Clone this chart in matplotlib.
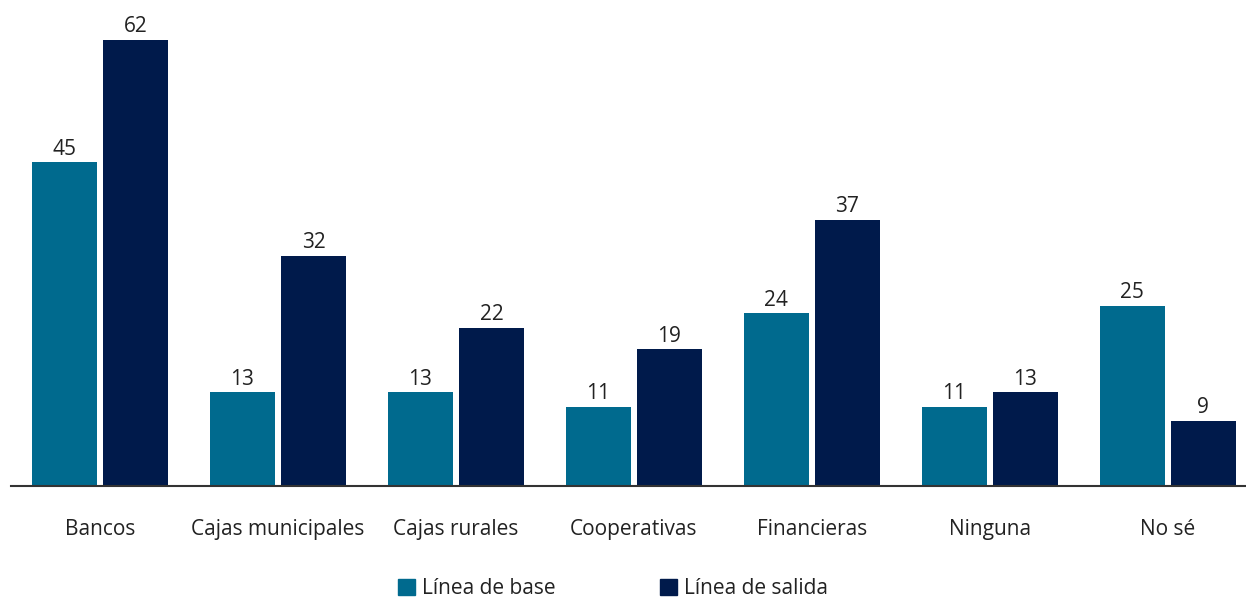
import numpy as np
import matplotlib
matplotlib.use('Agg')
import matplotlib.pyplot as plt
from matplotlib.patches import Patch

categories = ['Bancos', 'Cajas municipales', 'Cajas rurales', 'Cooperativas',
              'Financieras', 'Ninguna', 'No sé']
base = [45, 13, 13, 11, 24, 11, 25]
salida = [62, 32, 22, 19, 37, 13, 9]
series_names = ['Línea de base', 'Línea de salida']
colors = ['#006a8e', '#001a4b']

plt.rcParams['font.family'] = ['Open Sans', 'DejaVu Sans']

fig = plt.figure(figsize=(12.46, 6.01), dpi=100)
ax = fig.add_axes([11 / 1246, 115 / 601, 1235 / 1246, 486 / 601])

x = np.arange(len(categories))
w = 0.365
off = 0.2
b1 = ax.bar(x - off, base, w, color=colors[0])
b2 = ax.bar(x + off, salida, w, color=colors[1])

for bars, vals in ((b1, base), (b2, salida)):
    for r, v in zip(bars, vals):
        ax.annotate(str(v), (r.get_x() + r.get_width() / 2, v),
                    xytext=(0, 2), textcoords='offset points',
                    ha='center', va='bottom', fontsize=15, color='#222222')

ax.set_xlim(-0.5, 6.44)
ax.set_ylim(0, 67.56)
ax.set_xticks(x)
ax.set_xticklabels(categories, fontsize=15, color='#222222')
ax.tick_params(axis='x', length=0, pad=24)
ax.set_yticks([])
for s in ['top', 'right', 'left']:
    ax.spines[s].set_visible(False)
ax.spines['bottom'].set_color('#333333')
ax.spines['bottom'].set_linewidth(1.5)

handles = [Patch(color=c) for c in colors]
fig.legend(handles, series_names, loc='lower center', bbox_to_anchor=(0.492, -0.028),
           ncol=2, frameon=False, fontsize=15, handlelength=0.8, handleheight=0.8,
           handletextpad=0.35, columnspacing=5.0, labelcolor='#222222')

fig.savefig('out.png', dpi=100)
